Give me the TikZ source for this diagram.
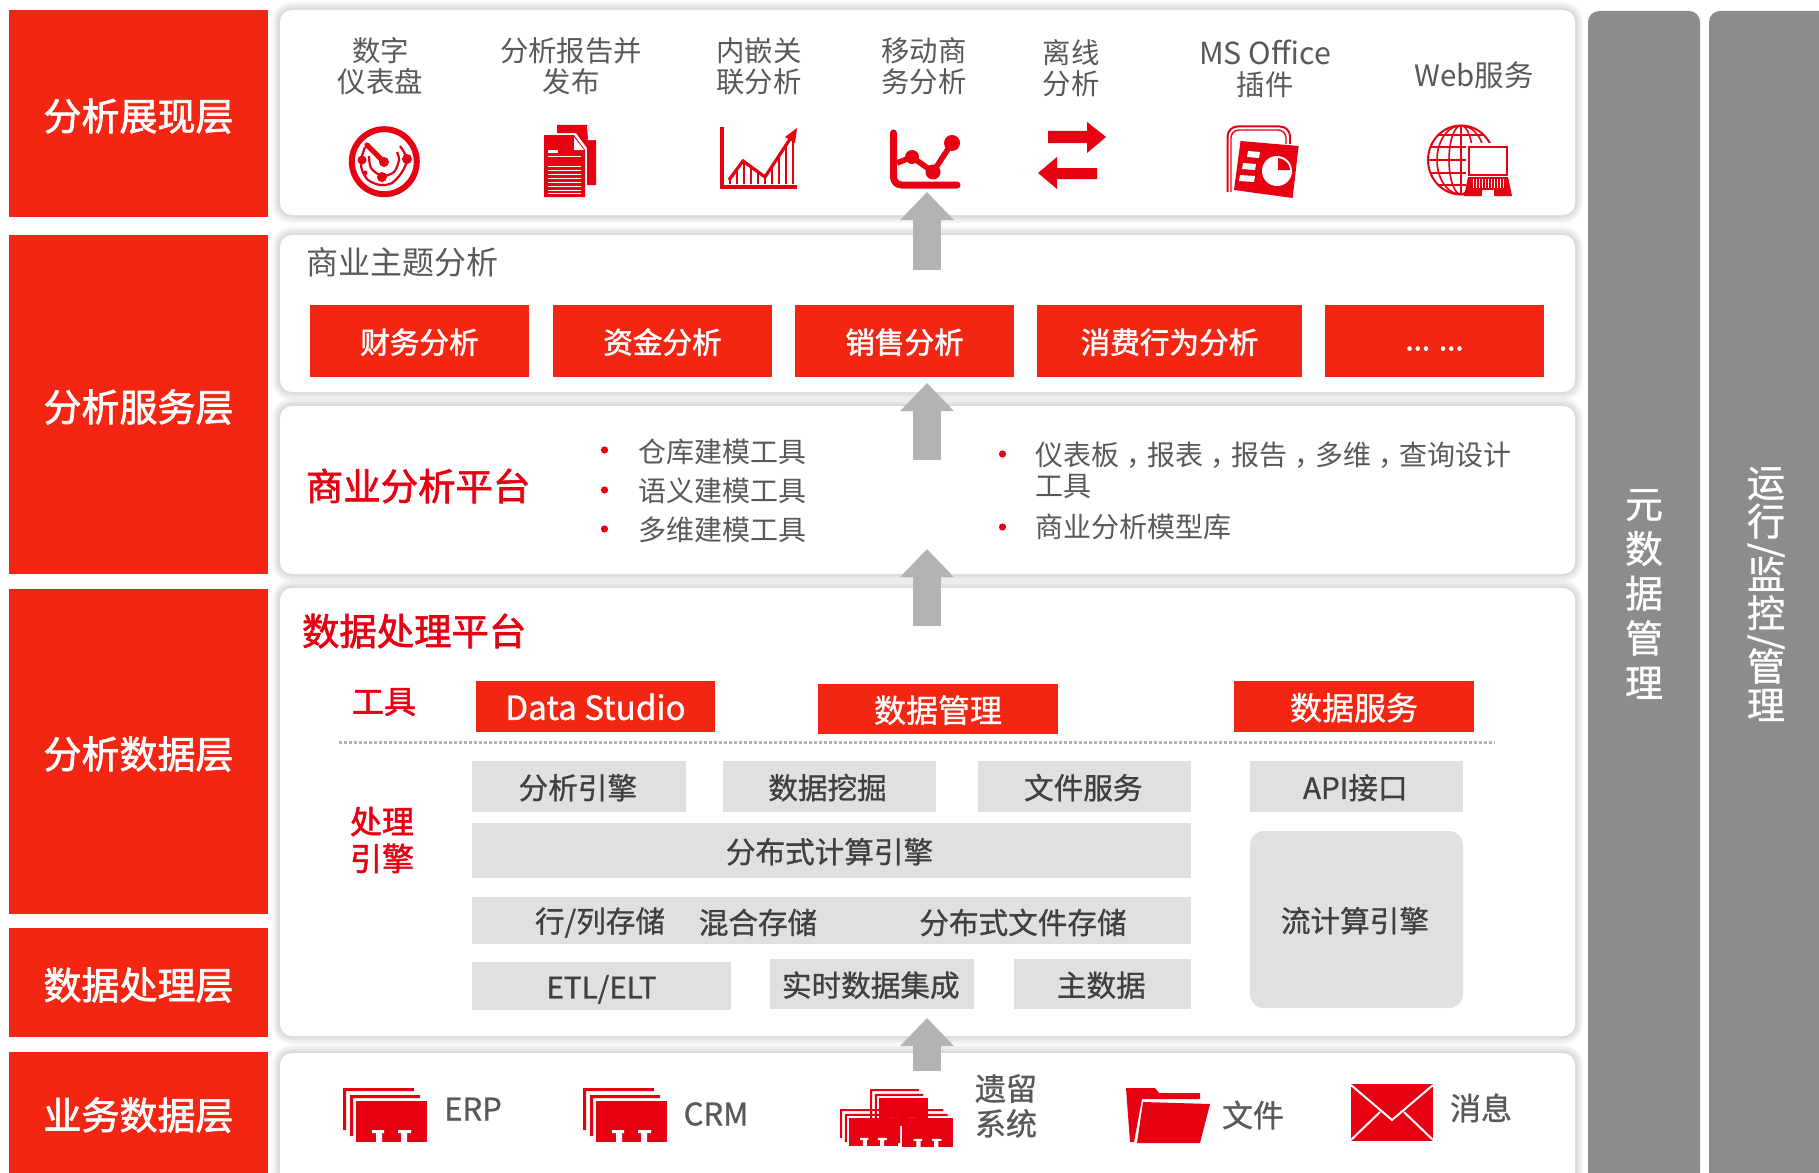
\documentclass[tikz,border=0pt]{standalone}
\usepackage{fontspec}
\usetikzlibrary{arrows.meta}
\setmainfont{Noto Sans CJK SC}
\newfontfamily\medf[FakeBold=0.9]{Noto Sans CJK SC}
\newfontfamily\heavyf[FakeBold=1.7]{Noto Sans CJK SC}
\definecolor{leftred}{HTML}{F32613}
\definecolor{iconred}{HTML}{E60012}
\definecolor{txtgray}{HTML}{595959}
\definecolor{darktxt}{HTML}{404040}
\definecolor{boxgray}{HTML}{E0E0E0}
\definecolor{colgray}{HTML}{8C8C8C}
\definecolor{arrowgray}{HTML}{B3B3B3}
\newcommand{\fs}[2]{\fontsize{#1}{#2}\selectfont}
\newcommand{\bx}[8][]{\node[#1,minimum width={(#5-#3)*0.5pt},minimum height={(#6-#4)*0.5pt}] (#2) at ({(#3+#5)/2},{(#4+#6)/2}) {\raisebox{#7}[0.88em][0.12em]{#8}};}
\newcommand{\softshadow}[4]{\foreach \w in {16,12,8,4}{\draw[black,opacity=0.035,line width=\w*0.5pt,rounded corners=6pt] (#1,#2) rectangle (#3,#4);}}
\newcommand{\stackicon}[3]{\begin{scope}[shift={(#1,#2)},scale=#3]
 \fill[iconred] (0,0)--(71,0)--(71,3)--(3,3)--(3,42)--(0,42)--cycle;
 \fill[iconred] (7,7)--(77,7)--(77,10)--(10,10)--(10,48)--(7,48)--cycle;
 \fill[iconred] (13,13) rectangle (84,54);
 \fill[white] (29,42) rectangle (41,45) (33,45) rectangle (39,54.5) (55,42) rectangle (68,45) (58,45) rectangle (64,54.5);
\end{scope}}
\tikzset{
 every node/.style={inner sep=0pt,outer sep=0pt},
 layerbox/.style={fill=leftred,text=white,font=\fs{19}{23}\heavyf},
 panelbox/.style={fill=white,rounded corners=6pt},
 redbox/.style={fill=leftred,text=white,font=\fs{14.8}{18}\heavyf},
 toolbox/.style={fill=leftred,text=white,font=\fs{16}{19}\medf},
 graybox/.style={fill=boxgray,text=darktxt,font=\fs{14.8}{18}\medf},
 sidebar/.style={fill=colgray,rounded corners=5.5pt},
 toplabel/.style={text=txtgray,align=center,font=\fs{14.2}{15.5}},
 bullettext/.style={text=txtgray,anchor=west,align=left,font=\fs{14}{15.5}},
 heading/.style={text=iconred,anchor=west,font=\fs{18.7}{22}\heavyf},
 subhead/.style={text=iconred,align=center,font=\fs{16}{18.5}\heavyf},
 bulletdot/.style={circle,fill=iconred,minimum size=3.6pt},
 srclabel/.style={text=txtgray,align=center,font=\fs{15.5}{17.5}\medf},
 flow/.style={draw=arrowgray,line width=14pt,-{Triangle[width=26pt,length=14pt]}},
}
\begin{document}
\begin{tikzpicture}[x=0.5pt,y=-0.5pt]
\useasboundingbox (0,0) rectangle (1819,1172);
\clip (0,0) rectangle (1819,1172);
\fill[white] (0,0) rectangle (1819,1172);

% layer labels
\bx[layerbox]{L1}{9}{10}{268}{217}{-1.2pt}{分析展现层}
\bx[layerbox]{L2}{9}{235}{268}{574}{-1.2pt}{分析服务层}
\bx[layerbox]{L3}{9}{589}{268}{914}{-1.2pt}{分析数据层}
\bx[layerbox]{L4}{9}{928}{268}{1037}{-1.2pt}{数据处理层}
\bx[layerbox]{L5}{9}{1052}{268}{1190}{3pt}{业务数据层}

% panels
\softshadow{280}{10}{1575}{215}
\softshadow{280}{235}{1575}{392}
\softshadow{280}{406}{1575}{574}
\softshadow{280}{588}{1575}{1036}
\softshadow{280}{1053}{1575}{1190}
\bx[panelbox]{P1}{280}{10}{1575}{215}{0pt}{}
\bx[panelbox]{P2}{280}{235}{1575}{392}{0pt}{}
\bx[panelbox]{P3}{280}{406}{1575}{574}{0pt}{}
\bx[panelbox]{P4}{280}{588}{1575}{1036}{0pt}{}
\bx[panelbox]{P5}{280}{1053}{1575}{1190}{0pt}{}

% side bars
\bx[sidebar]{S1}{1588}{11}{1700}{1200}{0pt}{}
\bx[sidebar]{S2}{1709}{11}{1830}{1200}{0pt}{}
\node[text=white,align=center,font=\fs{19}{22.35}\medf] (S1t) at (1644,594) {元\\数\\据\\管\\理};
\node[text=white,align=center,font=\fs{19}{19.3}\medf] (S2t) at (1766,594) {运\\行\\[-6pt]\rotatebox[origin=c]{-90}{/}\\[-6pt]监\\控\\[-6pt]\rotatebox[origin=c]{-90}{/}\\[-6pt]管\\理};

% top row labels
\node[toplabel] (t1) at (380.5,66) {数字\\仪表盘};
\node[toplabel] (t2) at (571,66) {分析报告并\\发布};
\node[toplabel] (t3) at (759,66) {内嵌关\\联分析};
\node[toplabel] (t4) at (924,66) {移动商\\务分析};
\node[toplabel] (t5) at (1071,68.5) {离线\\分析};
\node[toplabel] (t6) at (1265,68.5) {{\fs{15.2}{15.5}MS Office}\\插件};
\node[toplabel] (t7) at (1474,75) {\fs{14.7}{15.5}Web服务};

% icon: dashboard
\draw[iconred,line width=3pt] (384.3,161.7) circle [radius=32.5];
\draw[iconred,line width=2.6pt,line cap=round] (367,145)--(384,162);
\fill[iconred] (384,162) circle [radius=5];
\draw[iconred,line width=1.1pt] plot[smooth] coordinates {(400,146)(407,159)(402,172)(392,183)(380,185)(368,180)(362,170)(361,160)(365,147)};
\draw[iconred,line width=1.1pt] plot[smooth] coordinates {(369,156)(371,168)(382,176)(394,172)(399,160)(397,152)};
\fill[iconred] (362,160) circle [radius=4.5] (407,159) circle [radius=5] (382,177) circle [radius=5] (365,173) circle [radius=2.5];

% icon: documents
\fill[iconred] (557,125)--(587,125)--(596,140)--(596,185)--(587,185)--(587,148)--(576,133)--(557,133)--cycle;
\fill[white] (587,125)--(596,140)--(588,140)--cycle;
\fill[iconred] (544,135)--(574,135)--(585,150)--(585,197)--(544,197)--cycle;
\fill[white] (574,137)--(584,150)--(574,150)--cycle;
\foreach \yy in {156,166,170,174,178,182,186,190,193}{\fill[white] (548,\yy) rectangle (581,\yy+1.4);}
\fill[white] (548,150) rectangle (558,152.5);

% icon: line chart
\fill[iconred] (720,127) rectangle (723.5,188);
\fill[iconred] (720,185) rectangle (797,188.5);
\begin{scope}
\clip (729,184)--(729,180)--(743,161)--(765,177)--(795,130)--(795,184)--cycle;
\foreach \xx in {729,736,...,795}{\fill[iconred] (\xx,125) rectangle (\xx+2.4,185);}
\end{scope}
\draw[iconred,line width=1.6pt] (729,180)--(743,161)--(765,177)--(792,136);
\fill[iconred] (797,128)--(795,143)--(785,137)--cycle;

% icon: mobile chart
\draw[iconred,line width=3.5pt,line cap=round,rounded corners=4pt] (893.5,133)--(893.5,185)--(957,185);
\draw[iconred,line width=2.8pt] (897,163)--(912,157)--(933,172)--(952,143);
\fill[iconred] (912,157) circle [radius=7] (933,172) circle [radius=7.5] (952,143) circle [radius=8];

% icon: exchange arrows
\fill[iconred] (1048,131)--(1087,131)--(1087,122)--(1106,137)--(1087,153)--(1087,143)--(1048,143)--cycle;
\fill[iconred] (1097,168)--(1057,168)--(1057,157)--(1038,173)--(1057,189)--(1057,179)--(1097,179)--cycle;

% icon: office
\draw[iconred,line width=1pt,rounded corners=5pt] (1227.5,192)--(1227.5,126.5)--(1290,126.5)--(1290,144);
\draw[iconred,line width=.7pt,rounded corners=4pt] (1231,192)--(1231,130)--(1286,130)--(1286,144);
\fill[iconred] (1240.5,141)--(1298.6,146)--(1292.6,198)--(1234,190)--cycle;
\fill[white] (1248,151)--(1260,152)--(1259,158)--(1247,157)--cycle (1243,163)--(1256,164)--(1255,170)--(1242,169)--cycle (1240,175)--(1255,176)--(1254,182)--(1239,181)--cycle;
\fill[white] (1277,171) circle [radius=15];
\fill[iconred] (1278,170)--(1278,158) .. controls (1285,159) and (1290,164) .. (1290,170)--cycle;

% icon: web
\draw[iconred,line width=1pt] (1461,160) ellipse [x radius=33,y radius=34.5];
\draw[iconred,line width=.8pt] (1461,160) ellipse [x radius=12,y radius=34.5] (1461,160) ellipse [x radius=24,y radius=34.5] (1461,126)--(1461,194);
\foreach \yy/\ww in {135/22,147/30,160/33,173/30,185/22}{\draw[iconred,line width=1pt] (1461-\ww,\yy)--(1461+\ww,\yy);}
\fill[white] (1466,143) rectangle (1512,198);
\draw[iconred,line width=.7pt] (1469,147) rectangle (1507,175);
\fill[iconred] (1468,177)--(1508,177)--(1512,196)--(1464,196)--cycle;
\foreach \xx in {1473,1476,...,1503}{\fill[white] (\xx,179) rectangle (\xx+1,188);}
\fill[white] (1482,190) rectangle (1494,196);

% business theme panel
\node[text=txtgray,anchor=west,font=\fs{16}{18}] (themeT) at (306,262) {商业主题分析};
\bx[redbox]{r1}{310}{305}{529}{377}{-.6pt}{财务分析}
\bx[redbox]{r2}{553}{305}{772}{377}{-.6pt}{资金分析}
\bx[redbox]{r3}{795}{305}{1014}{377}{-.6pt}{销售分析}
\bx[redbox]{r4}{1037}{305}{1302}{377}{-.6pt}{消费行为分析}
\bx[redbox]{r5}{1325}{305}{1544}{377}{1pt}{... ...}

% business analysis platform
\node[heading] (platA) at (306,486) {商业分析平台};
\node[bulletdot] (b1) at (604.5,450) {};
\node[bulletdot] (b2) at (604.5,490) {};
\node[bulletdot] (b3) at (604.5,529) {};
\node[bullettext] (bt1) at (638,451.5) {仓库建模工具};
\node[bullettext] (bt2) at (638,490.5) {语义建模工具};
\node[bullettext] (bt3) at (638,529.5) {多维建模工具};
\node[bulletdot] (b4) at (1002.5,454) {};
\node[bulletdot] (b5) at (1002.5,527) {};
\node[bullettext] (bt4) at (1035,470.5) {仪表板\hspace{3.5pt}，\hspace{-3.5pt}报表\hspace{3.5pt}，\hspace{-3.5pt}报告\hspace{3.5pt}，\hspace{-3.5pt}多维\hspace{3.5pt}，\hspace{-3.5pt}查询设计\\工具};
\node[bullettext] (bt5) at (1035,527) {商业分析模型库};

% data processing platform
\node[heading] (platB) at (302,631) {数据处理平台};
\node[subhead] (tool) at (384,702) {工具};
\bx[toolbox]{d1}{476}{681}{715}{732}{-.6pt}{\fs{16.6}{19}Data Studio}
\bx[toolbox]{d2}{818}{684}{1058}{734}{-.6pt}{数据管理}
\bx[toolbox]{d3}{1234}{681}{1474}{732}{-.6pt}{数据服务}
\coordinate (dotA) at (339,742);
\coordinate (dotB) at (1495,742);
\draw[arrowgray,line width=1.5pt,dash pattern=on 1.5pt off 1pt] (dotA)--(dotB);
\node[subhead] (proc) at (382,840) {处理\\引擎};
\bx[graybox]{g1}{472}{761}{686}{812}{-.6pt}{\hspace*{-1.2pt}分析引擎}
\bx[graybox]{g2}{723}{761}{936}{812}{-.6pt}{\hspace*{-2pt}数据挖掘}
\bx[graybox]{g3}{978}{761}{1191}{812}{-.6pt}{\hspace*{-1.2pt}文件服务}
\bx[graybox]{g4}{1250}{761}{1463}{812}{-.6pt}{\hspace*{-1.2pt}API接口}
\bx[graybox]{g5}{472}{823}{1191}{878}{-.6pt}{\hspace*{-2pt}分布式计算引擎}
\bx[graybox]{g6}{472}{897}{1191}{944}{0pt}{}
\node[text=darktxt,font=\fs{14.8}{18}\medf] (g6a) at (600,922.5) {行/列存储};
\node[text=darktxt,font=\fs{14.8}{18}\medf] (g6b) at (758,922.5) {混合存储};
\node[text=darktxt,font=\fs{14.8}{18}\medf] (g6c) at (1023,922.5) {分布式文件存储};
\bx[graybox]{g7}{472}{962}{731}{1010}{-.6pt}{ETL/ELT}
\bx[graybox]{g8}{770}{959}{974}{1009}{-.6pt}{\hspace*{-1.2pt}实时数据集成}
\bx[graybox]{g9}{1014}{959}{1191}{1009}{-.6pt}{\hspace*{-1.2pt}主数据}
\bx[graybox,rounded corners=7pt]{g10}{1250}{831}{1463}{1008}{-.6pt}{\hspace*{-1.6pt}流计算引擎}

% data sources
\stackicon{343}{1088}{1}
\stackicon{583}{1088}{1}
\stackicon{870}{1089}{0.69}
\stackicon{840}{1109}{0.69}
\stackicon{893}{1109}{0.71}
\node[srclabel] (sERP) at (473,1109) {ERP};
\node[srclabel] (sCRM) at (716,1114) {CRM};
\node[srclabel] (sOld) at (1006,1106) {遗留\\系统};
\node[srclabel] (sFile) at (1253,1115) {文件};
\node[srclabel] (sMsg) at (1481,1108) {消息};

% folder
\fill[iconred] (1126,1088)--(1155,1088)--(1159,1093)--(1200,1093)--(1200,1099)--(1142,1099)--(1134,1142)--(1130,1142)--cycle;
\fill[iconred] (1143,1102)--(1210,1104)--(1200,1143)--(1137,1143)--cycle;

% envelope
\fill[iconred] (1351,1084) rectangle (1433,1141);
\draw[white,line width=1pt] (1351,1085)--(1392,1120)--(1433,1085);
\draw[white,line width=1pt] (1351,1140)--(1380,1112);
\draw[white,line width=1pt] (1433,1140)--(1404,1112);

% upward flow arrows
\coordinate (a1b) at (927,270); \coordinate (a1t) at (927,192);
\coordinate (a2b) at (927,460); \coordinate (a2t) at (927,383);
\coordinate (a3b) at (927,626); \coordinate (a3t) at (927,549);
\coordinate (a4b) at (927,1071); \coordinate (a4t) at (927,1018);
\draw[flow] (a1b)--(a1t);
\draw[flow] (a2b)--(a2t);
\draw[flow] (a3b)--(a3t);
\draw[flow] (a4b)--(a4t);
\end{tikzpicture}
\end{document}
